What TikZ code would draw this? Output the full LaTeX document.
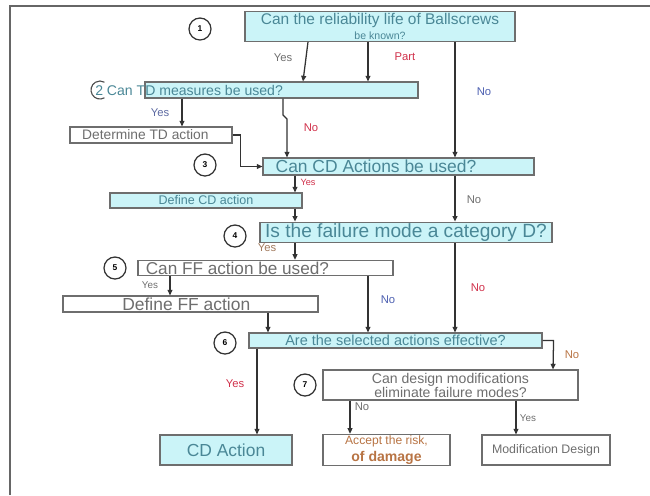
\documentclass[tikz,border=0pt]{standalone}
\usepackage{fontspec}
\setmainfont{Liberation Sans}
\usepackage{xcolor}
\usetikzlibrary{arrows.meta,positioning,calc}
\definecolor{FlowCyan}{HTML}{CBF4F8}
\definecolor{FlowText}{HTML}{4A8796}
\definecolor{FlowGray}{HTML}{6E6E6E}
\definecolor{FlowRed}{HTML}{D0304A}
\definecolor{FlowBlue}{HTML}{4C5FB0}
\definecolor{FlowBrown}{HTML}{B87444}
\newlength\px
\setlength\px{0.025cm}
\newcommand{\fsz}[1]{\fontsize{#1}{#1}\selectfont}
\tikzset{
  cyanbox/.style={draw=FlowGray, line width=0.8pt, fill=FlowCyan, text=FlowText, inner sep=1pt, align=center},
  whitebox/.style={draw=FlowGray, line width=0.8pt, fill=white, text=FlowGray, inner sep=1pt, align=center},
  numcirc/.style={circle, draw=black!80, line width=0.9pt, minimum size=22\px, inner sep=0pt, font=\fsz{6}\bfseries},
  flow/.style={draw=black!80, line width=0.9pt, -{Triangle[length=4pt,width=3.5pt]}},
  lbl/.style={font=\fsz{8}, inner sep=0pt}
}
\begin{document}
\begin{tikzpicture}[x=0.025cm, y=-0.025cm]
  \useasboundingbox (0,0) rectangle (650,495);
  \draw[black!60, line width=0.8pt] (10,495) -- (10,6) -- (650,6);

  \node[cyanbox, minimum width=270\px, minimum height=23\px] (q1) at (380,26.5)
    {{\fsz{11}Can the reliability life of Ballscrews}\\[-1pt]{\fsz{7.5}be known?}};
  \node[numcirc] (c1) at (200,29) {1};

  \node[cyanbox, minimum width=273\px, minimum height=16\px] (q2) at (281.5,90) {};
  \node[anchor=west, text=FlowText, font=\fsz{10}, inner sep=0pt] (t2) at (95,90)
    {2 Can TD measures be used?};
  \draw[black!70, line width=0.8pt] (104.5,97.8) arc[start angle=60, end angle=300, radius=9];

  \node[whitebox, minimum width=162\px, minimum height=16\px, font=\fsz{9.8}] (td) at (151,135)
    {Determine TD action\hspace{8pt}};

  \node[cyanbox, minimum width=271\px, minimum height=17\px, font=\fsz{12.4}] (q3) at (398.5,166.5)
    {Can CD Actions be used?\hspace{32pt}};
  \node[numcirc] (c3) at (205,165) {3};

  \node[cyanbox, minimum width=192\px, minimum height=15\px, font=\fsz{8.9}] (cdd) at (206,200.5)
    {Define CD action};

  \node[cyanbox, minimum width=292\px, minimum height=15\px, font=\fsz{13.6}] (q4) at (406,232.5)
    {Is the failure mode a category D?};
  \node[numcirc] (c4) at (235,236) {4};

  \node[whitebox, minimum width=255\px, minimum height=14\px, font=\fsz{12.2}] (q5) at (265.5,268)
    {Can FF action be used?\hspace{40pt}};
  \node[numcirc] (c5) at (115,268) {5};

  \node[whitebox, minimum width=255\px, minimum height=16\px, font=\fsz{12.4}] (ffd) at (190.5,304)
    {Define FF action\hspace{6pt}};

  \node[cyanbox, minimum width=293\px, minimum height=15\px, font=\fsz{10.3}] (q6) at (395.5,340.5)
    {Are the selected actions effective?};
  \node[numcirc] (c6) at (225,343) {6};

  \node[whitebox, minimum width=255\px, minimum height=30\px, font=\fsz{10}] (q7) at (450.5,385)
    {Can design modifications\\eliminate failure modes?};
  \node[numcirc] (c7) at (305,385) {7};

  \node[cyanbox, minimum width=132\px, minimum height=30\px, font=\fsz{12.4}] (cda) at (226,450)
    {CD Action};
  \node[whitebox, minimum width=127\px, minimum height=30\px, text=FlowBrown] (acc) at (386.5,450)
    {{\fsz{8.6}Accept the risk,}\\[0pt]{\fsz{10}\bfseries of damage}};
  \node[whitebox, minimum width=128\px, minimum height=30\px, font=\fsz{8.8}] (mod) at (546,450)
    {Modification Design};

  \draw[flow] (q1.south -| 308,0) -- (q2.north -| 303,0);
  \draw[flow] (q1.south -| 368,0) -- (q2.north -| 368,0);
  \draw[flow] (q1.south -| 455,0) -- (q3.north -| 455,0);
  \draw[flow] (q2.south -| 182,0) -- (td.north -| 182,0);
  \draw[flow] (q2.south -| 283,0) -- (283,115) -- (287,119) -- (q3.north -| 287,0);
  \draw[flow] (td.east) -- ++(8,0) |- (q3.west);
  \draw[flow] (q3.south -| 295,0) -- (cdd.north -| 295,0);
  \draw[flow] (cdd.south -| 295,0) -- (q4.north -| 295,0);
  \draw[flow] (q3.south -| 455,0) -- (q4.north -| 455,0);
  \draw[flow] (q4.south -| 295,0) -- (q5.north -| 295,0);
  \draw[flow] (q4.south -| 455,0) -- (q6.north -| 455,0);
  \draw[flow] (q5.south -| 170,0) -- (ffd.north -| 170,0);
  \draw[flow] (q5.south -| 368,0) -- (q6.north -| 368,0);
  \draw[flow] (ffd.south -| 268,0) -- (q6.north -| 268,0);
  \draw[flow] (q6.south -| 257,0) -- (cda.north -| 257,0);
  \draw[flow] (q6.east) -- ++(11,0) -- (q7.north -| 553,0);
  \draw[flow] (q7.south -| 350,0) -- (acc.north -| 350,0);
  \draw[flow] (q7.south -| 516,0) -- (mod.north -| 516,0);

  \node[lbl, text=FlowGray] (l1) at (283,58) {Yes};
  \node[lbl, text=FlowRed] (l2) at (405,57) {Part};
  \node[lbl, text=FlowBlue] (l3) at (484,92) {No};
  \node[lbl, text=FlowBlue!70!gray] (l4) at (160,113) {Yes};
  \node[lbl, text=FlowRed] (l5) at (311,128) {No};
  \node[lbl, text=FlowRed, font=\fsz{6.5}] (l6) at (308,182) {Yes};
  \node[lbl, text=FlowGray] (l7) at (474,200) {No};
  \node[lbl, text=FlowBrown!60!gray] (l8) at (267,248) {Yes};
  \node[lbl, text=FlowRed] (l9) at (478,288) {No};
  \node[lbl, text=FlowGray, font=\fsz{7}] (l10) at (150,285) {Yes};
  \node[lbl, text=FlowBlue] (l11) at (388,300) {No};
  \node[lbl, text=FlowRed] (l12) at (235,384) {Yes};
  \node[lbl, text=FlowBrown] (l13) at (572,355) {No};
  \node[lbl, text=FlowGray] (l14) at (362,407) {No};
  \node[lbl, text=FlowGray, font=\fsz{7}] (l15) at (528,418) {Yes};
\end{tikzpicture}
\end{document}
